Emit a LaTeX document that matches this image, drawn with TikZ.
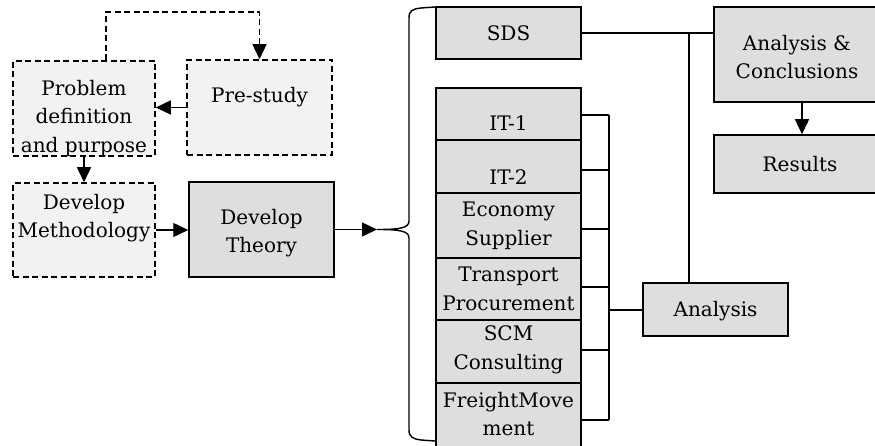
\documentclass[tikz,border=0pt]{standalone}
\usepackage{fontspec}
\setmainfont{DejaVu Serif}
\usetikzlibrary{arrows.meta,fit}

\tikzset{
  box/.style={draw=black, line width=1.5pt, fill=boxgray, inner sep=0pt},
  dbox/.style={draw=black, line width=1.5pt, fill=dashgray, inner sep=0pt,
               dash pattern=on 6pt off 3.5pt},
  txt/.style={align=center, inner sep=0pt, font=\fontsize{20}{28.5}\selectfont},
  conn/.style={line width=1.4pt},
  dconn/.style={line width=1.4pt, dash pattern=on 6pt off 3.5pt},
  arr/.style={-{Triangle[length=15pt,width=14pt]}},
}
\definecolor{boxgray}{HTML}{DEDEDE}
\definecolor{dashgray}{HTML}{F2F2F2}

\begin{document}
\begin{tikzpicture}[x=1pt,y=-1pt]
\useasboundingbox (0,0) rectangle (875,446);
\clip (0,0) rectangle (875,446);

% left-hand phase boxes
\node[dbox, fit={(13,61) (155,156)}] (prob) {};
\node[txt] (probt) at (84,118) {Problem\\definition\\and purpose};
\node[dbox, fit={(187,60) (332,155)}] (pre) {};
\node[txt] (pret) at (259.5,97) {Pre-study};
\node[dbox, fit={(13,183) (155,277)}] (meth) {};
\node[txt] (metht) at (84,218) {Develop\\Methodology};
\node[box, fit={(189,182) (334,277)}] (theory) {};
\node[txt] (theoryt) at (261.5,233) {Develop\\Theory};

% stacked study boxes
\node[box, fit={(436,7) (581,59)}] (sds) {};
\node[txt] (sdst) at (508.5,33) {SDS};
\node[box, fit={(436,88) (581,140)}] (it1) {};
\node[txt] (it1t) at (508.5,123) {IT-1};
\node[box, fit={(436,140) (581,193)}] (it2) {};
\node[txt] (it2t) at (508.5,177) {IT-2};
\node[box, fit={(436,193) (581,258)}] (eco) {};
\node[txt] (ecot) at (508.5,226) {Economy\\Supplier};
\node[box, fit={(436,258) (581,320)}] (tra) {};
\node[txt] (trat) at (508.5,289) {Transport\\Procurement};
\node[box, fit={(436,320) (581,383)}] (scm) {};
\node[txt] (scmt) at (508.5,350) {SCM\\Consulting};
\node[box, fit={(436,383) (581,455)}] (fre) {};
\node[txt] (fret) at (508.5,414) {FreightMove\\ment};

% analysis and results
\node[box, fit={(643,283) (788,336)}] (ana) {};
\node[txt] (anat) at (715.5,311) {Analysis};
\node[box, fit={(714,7) (890,102)}] (ac) {};
\node[txt] (act) at (797,57) {Analysis \&\\Conclusions};
\node[box, fit={(714,135) (890,193)}] (res) {};
\node[txt] (rest) at (800,164) {Results};

% helper points
\coordinate (top) at (180,12);
\coordinate (tip) at (377,229.5);
\coordinate (b1) at (609,115);
\coordinate (b2) at (609,170);
\coordinate (b3) at (609,229);
\coordinate (b4) at (609,287);
\coordinate (b5) at (609,350);
\coordinate (b6) at (609,420);
\coordinate (bm) at (609,310);
\coordinate (j1) at (689,33);

% flow in the left part
\draw[dconn,arr] ([xshift=22pt]prob.north) |- (top) -| (pre.north);
\draw[conn,arr] (pre.west) -- (prob.east |- pre.west);
\draw[conn,arr] (prob.south) -- (meth.north);
\draw[conn,arr] (meth.east) -- (theory.west |- meth.east);
\draw[conn,arr] (theory.east) -- (tip);

% curly brace gathering the studies
\draw[conn] (435,7) -- (421,8) .. controls (412,9) and (409,11) .. (409,18)
  -- (409,221) .. controls (409,228) and (400,229.5) .. (tip)
  .. controls (400,229.5) and (409,231) .. (409,238)
  -- (409,430) .. controls (409,437) and (413,439) .. (421,440) -- (435,441);

% bus from the studies to the analysis
\draw[conn] (b1 -| it1.east) -- (b1);
\draw[conn] (b2 -| it2.east) -- (b2);
\draw[conn] (b3 -| eco.east) -- (b3);
\draw[conn] (b4 -| tra.east) -- (b4);
\draw[conn] (b5 -| scm.east) -- (b5);
\draw[conn] (b6 -| fre.east) -- (b6);
\draw[conn] (b1) -- (b6);
\draw[conn] (bm) -- (ana.west |- bm);

% towards the conclusions
\draw[conn] (j1 |- ana.north) -- (j1);
\draw[conn] (sds.east) -- (ac.west |- sds.east);
\draw[conn,arr] (ac.south) -- (res.north);
\end{tikzpicture}
\end{document}
